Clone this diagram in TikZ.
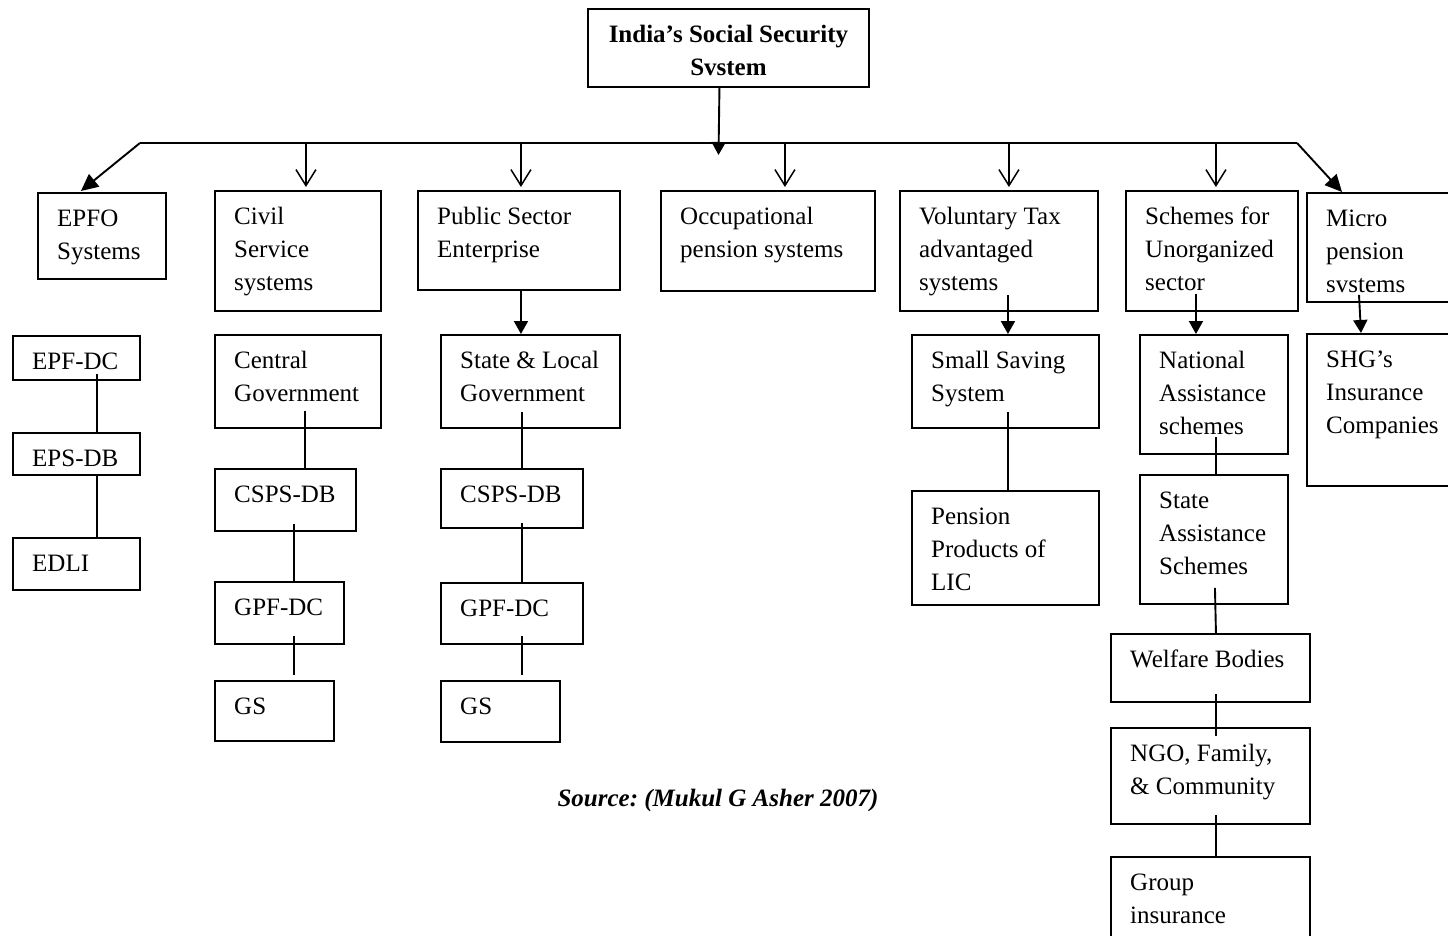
\documentclass[tikz,border=0pt]{standalone}
\usepackage{fontspec}
\setmainfont{Liberation Serif}
\usetikzlibrary{arrows.meta}
\frenchspacing
\tikzset{
  box/.style={draw, line width=1.9pt, inner sep=0pt, anchor=north west},
  txt/.style={anchor=north west, align=left, inner sep=0pt, font=\fontsize{25}{33}\selectfont},
  ln/.style={line width=1.9pt},
  farr/.style={line width=1.9pt, -{Triangle[length=13pt,width=14pt]}},
  farrbig/.style={line width=1.9pt, -{Triangle[length=17pt,width=16pt]}},
  oarr/.style={line width=1.5pt, -{Straight Barb[length=16pt,width=20pt]}},
}
\newcommand\bx[6]{%
  \node[box, minimum width=#4pt, minimum height=#5pt] (#1) at (#2,#3) {};
  \node[txt] (#1-t) at ([xshift=20pt,yshift=-10.9pt]#1.north west) {\strut#6};
}
\begin{document}
\begin{tikzpicture}[x=1pt,y=-1pt]
\useasboundingbox (0,0) rectangle (1448,936);
\clip (0,0) rectangle (1448,936);
\fill[white] (0,0) rectangle (1448,936);

% title
\node[box, minimum width=281pt, minimum height=78pt] (top) at (587,8) {};
\node[txt, anchor=north, align=center, font=\fontsize{25}{33}\selectfont\bfseries] (top-t)
  at ([yshift=-10.9pt]top.north) {\strut India’s Social Security\\Svstem};

% level 1
\bx{epfo}{37}{192}{128}{86}{EPFO\\Systems}
\bx{civil}{214}{190}{166}{120}{Civil\\Service\\systems}
\bx{pub}{417}{190}{202}{99}{Public Sector\\Enterprise}
\bx{occ}{660}{190}{214}{100}{Occupational\\pension systems}
\bx{vol}{899}{190}{198}{120}{Voluntary Tax\\advantaged\\systems}
\bx{sch}{1125}{190}{172}{120}{Schemes for\\Unorganized\\sector}
\bx{micro}{1306}{192}{170}{109}{Micro\\pension\\svstems}

% EPFO column
\bx{epfdc}{12}{335}{127}{44}{EPF-DC}
\bx{epsdb}{12}{432}{127}{42}{EPS-DB}
\bx{edli}{12}{537}{127}{52}{EDLI}

% civil column
\bx{central}{214}{334}{166}{93}{Central\\Government}
\bx{cspsA}{214}{468}{141}{62}{CSPS-DB}
\bx{gpfA}{214}{581}{129}{62}{GPF-DC}
\bx{gsA}{214}{680}{119}{60}{GS}

% public column
\bx{state}{440}{334}{179}{93}{State \& Local\\Government}
\bx{cspsB}{440}{468}{142}{59}{CSPS-DB}
\bx{gpfB}{440}{582}{142}{61}{GPF-DC}
\bx{gsB}{440}{680}{119}{61}{GS}

% voluntary column
\bx{ss}{911}{334}{187}{93}{Small Saving\\System}
\bx{lic}{911}{490}{187}{114}{Pension\\Products of\\LIC}

% unorganized column
\bx{nat}{1139}{334}{148}{119}{National\\Assistance\\schemes}
\bx{sta}{1139}{474}{148}{129}{State\\Assistance\\Schemes}
\bx{wel}{1110}{633}{199}{68}{Welfare Bodies}
\bx{ngo}{1110}{727}{199}{96}{NGO, Family,\\\& Community}
\bx{grp}{1110}{856}{199}{110}{Group\\insurance}

% micro column
\bx{shg}{1306}{333}{170}{152}{SHG’s\\Insurance\\Companies}

% source
\node[anchor=base, inner sep=0pt, font=\fontsize{25}{33}\selectfont\bfseries\itshape] (src)
  at (718,806) {Source: (Mukul G Asher 2007)};

% top connectors
\coordinate (L) at (140,143);
\coordinate (R) at (1297,143);
\coordinate (drop) at (718.5,155);
\draw[ln] (L) -- (R);
\draw[farr] ([xshift=-9pt]top.south) -- (drop);
\draw[farrbig] (L) -- ([xshift=-21pt,yshift=1pt]epfo.north);
\draw[farrbig] (R) -- ([xshift=36pt]micro.north west);
\draw[oarr] ([xshift=8pt]civil.north |- L) -- ([xshift=8pt,yshift=3pt]civil.north);
\draw[oarr] ([xshift=2pt]pub.north |- L) -- ([xshift=2pt,yshift=3pt]pub.north);
\draw[oarr] ([xshift=17pt]occ.north |- L) -- ([xshift=17pt,yshift=3pt]occ.north);
\draw[oarr] ([xshift=10pt]vol.north |- L) -- ([xshift=10pt,yshift=3pt]vol.north);
\draw[oarr] ([xshift=4pt]sch.north |- L) -- ([xshift=4pt,yshift=3pt]sch.north);

% level 1 to level 2 arrows
\draw[farr] ([xshift=2pt]pub.south) -- ([xshift=-9.5pt]state.north);
\draw[farr] ([xshift=9pt,yshift=17pt]vol.south) -- ([xshift=2.5pt]ss.north);
\draw[farr] ([xshift=-16pt,yshift=18pt]sch.south) -- ([xshift=-18pt]nat.north);
\draw[farr] ([xshift=53pt,yshift=8pt]micro.south west) -- ([xshift=55pt]shg.north west);

% plain chains
\draw[ln] ([xshift=20.5pt,yshift=7pt]epfdc.south) -- ([xshift=20.5pt]epsdb.north);
\draw[ln] ([xshift=20.5pt]epsdb.south) -- ([xshift=20.5pt]edli.north);
\draw[ln] ([xshift=7pt,yshift=18pt]central.south) -- ([xshift=19.5pt]cspsA.north);
\draw[ln] ([xshift=8.5pt,yshift=8pt]cspsA.south) -- ([xshift=14.5pt]gpfA.north);
\draw[ln] ([xshift=14.5pt,yshift=9pt]gpfA.south) -- ([xshift=19.5pt,yshift=5pt]gsA.north);
\draw[ln] ([xshift=-8.5pt,yshift=17pt]state.south) -- ([xshift=10pt]cspsB.north);
\draw[ln] ([xshift=10pt,yshift=6pt]cspsB.south) -- ([xshift=10pt]gpfB.north);
\draw[ln] ([xshift=10pt,yshift=9pt]gpfB.south) -- ([xshift=21.5pt,yshift=5pt]gsB.north);
\draw[ln] ([xshift=2.5pt,yshift=17pt]ss.south) -- ([xshift=2.5pt]lic.north);
\draw[ln] ([xshift=2pt,yshift=18pt]nat.south) -- ([xshift=2pt]sta.north);
\draw[ln] ([xshift=1pt,yshift=17pt]sta.south) -- ([xshift=5.5pt]wel.north);
\draw[ln] ([xshift=5.5pt,yshift=9pt]wel.south) -- ([xshift=5.5pt,yshift=-9pt]ngo.north);
\draw[ln] ([xshift=5.5pt,yshift=10pt]ngo.south) -- ([xshift=5.5pt]grp.north);
\end{tikzpicture}
\end{document}
